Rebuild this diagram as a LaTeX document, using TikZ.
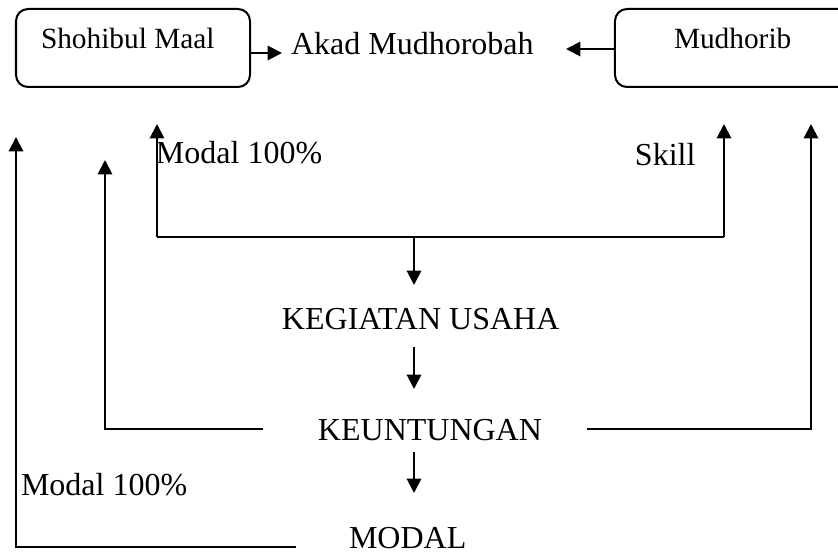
\documentclass[tikz,border=0pt]{standalone}
\usepackage{fontspec}
\setmainfont{Liberation Serif}
\usetikzlibrary{arrows.meta}
\begin{document}
\begin{tikzpicture}[x=0.375pt,y=-0.375pt,
  line width=0.75pt,
  arr/.style={-{Triangle[length=5.4pt,width=5.4pt]}},
  boxnode/.style={draw,rounded corners=4.5pt,inner sep=0pt,minimum height=29.25pt},
  txt/.style={anchor=base west,inner sep=0pt,font=\fontsize{12}{14}\selectfont},
  btxt/.style={anchor=base west,inner sep=0pt,font=\fontsize{11}{13}\selectfont}]
\useasboundingbox (0,0) rectangle (838,553);
% boxes
\node[boxnode,minimum width=87.75pt] (sm) at (133,48) {};
\node[boxnode,minimum width=88.125pt] (md) at (732.5,48) {};
\node[btxt] (smtext) at (40,48) {Shohibul Maal};
\node[btxt] (mdtext) at (673,48) {Mudhorib};
\node[txt] (akad) at (290,55) {Akad Mudhorobah};
\node[txt] (modal1) at (155,164) {Modal 100\%};
\node[txt] (skill) at (634,165) {Skill};
\node[txt] (keg) at (281,330) {KEGIATAN USAHA};
\node[txt] (keu) at (317,441) {KEUNTUNGAN};
\node[txt] (modal2) at (20,495) {Modal 100\%};
\node[txt] (modal) at (348,549) {MODAL};
% coordinates
\coordinate (akl) at (282,53);
\coordinate (akr) at (566,49);
\coordinate (t1) at (157,124);
\coordinate (j1) at (157,237);
\coordinate (j2) at (724,237);
\coordinate (t2) at (724,124);
\coordinate (jm) at (414,237);
\coordinate (kegtop) at (414,285);
\coordinate (kegbot) at (414,347);
\coordinate (keutop) at (414,389);
\coordinate (keubot) at (414,452);
\coordinate (modtop) at (414,493);
\coordinate (kl) at (263,429);
\coordinate (kl2) at (105,429);
\coordinate (tl2) at (105,160);
\coordinate (kr) at (587,429);
\coordinate (kr2) at (811,429);
\coordinate (tr2) at (811,124);
\coordinate (ml) at (296,547);
\coordinate (ml2) at (16,547);
\coordinate (tl1) at (16,137);
% connectors
\draw[arr] (sm.east |- akl) -- (akl);
\draw[arr] (md.west |- akr) -- (akr);
\draw (j1) -- (j2);
\draw[arr] (j1) -- (t1);
\draw[arr] (j2) -- (t2);
\draw[arr] (jm) -- (kegtop);
\draw[arr] (kegbot) -- (keutop);
\draw[arr] (keubot) -- (modtop);
\draw[arr] (kl) -- (kl2) -- (tl2);
\draw[arr] (kr) -- (kr2) -- (tr2);
\draw[arr] (ml) -- (ml2) -- (tl1);
\end{tikzpicture}
\end{document}
